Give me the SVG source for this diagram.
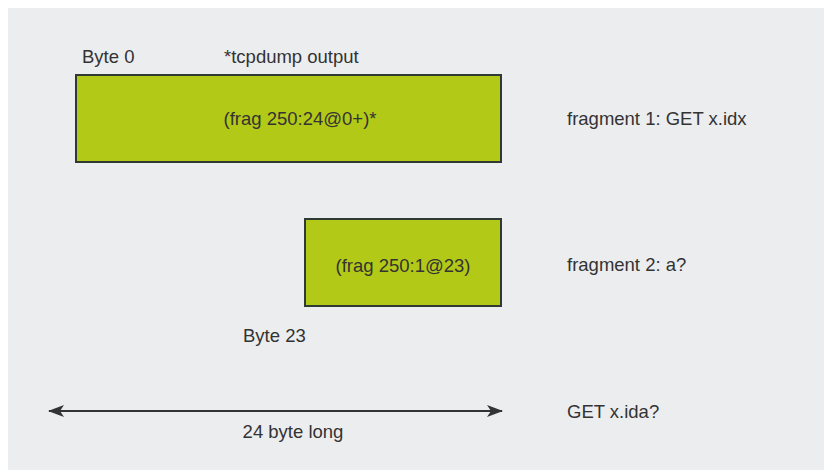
<svg xmlns="http://www.w3.org/2000/svg" width="824" height="470" viewBox="0 0 824 470">
<style>
text{font-family:"Liberation Sans",Arial,sans-serif;font-size:18.5px;fill:#333333}
.box{fill:#B3C918;stroke:#2F3A33;stroke-width:2}
.mid{text-anchor:middle}
</style>
<defs>
<marker id="ah" viewBox="0 0 16 12" refX="15" refY="6" markerWidth="16" markerHeight="12" markerUnits="userSpaceOnUse" orient="auto-start-reverse">
<path d="M0,0 L16,6 L0,12 L4,6 Z" fill="#333333"/>
</marker>
</defs>
<rect x="0" y="0" width="824" height="470" fill="#FFFFFF"/>
<rect x="8" y="8" width="816" height="462" fill="#ECEDEF"/>
<g id="labels">
<text x="82" y="63">Byte 0</text>
<text x="224" y="63">*tcpdump output</text>
<text x="243" y="342">Byte 23</text>
<text x="567" y="125">fragment 1: GET x.idx</text>
<text x="567" y="271">fragment 2: a?</text>
<text x="567" y="418">GET x.ida?</text>
</g>
<g id="frag1">
<rect class="box" x="76" y="75" width="425" height="87"/>
<text class="mid" x="300" y="125">(frag 250:24@0+)*</text>
</g>
<g id="frag2">
<rect class="box" x="305" y="219" width="196" height="87"/>
<text class="mid" x="403" y="272">(frag 250:1@23)</text>
</g>
<g id="connectors">
<line x1="49" y1="411" x2="502" y2="411" stroke="#333333" stroke-width="2" marker-start="url(#ah)" marker-end="url(#ah)"/>
<text class="mid" x="293" y="438">24 byte long</text>
</g>
</svg>
